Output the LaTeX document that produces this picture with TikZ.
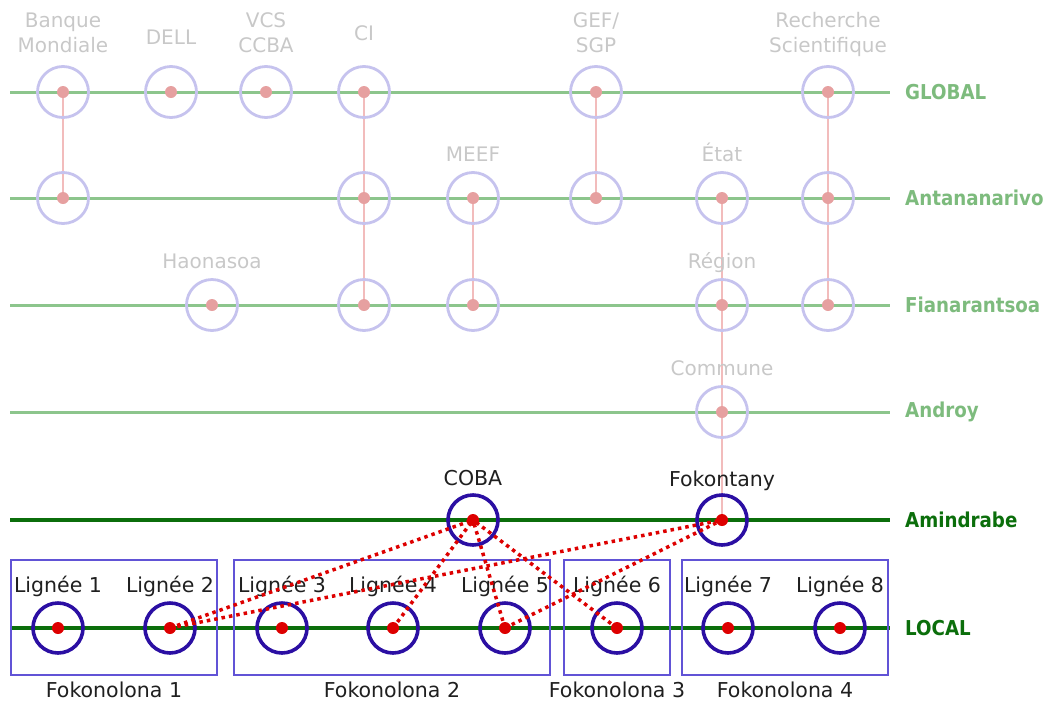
\documentclass[tikz,border=0pt]{standalone}
\usepackage{fontspec}
\setmainfont{DejaVu Sans}
\newfontfamily\levelfont{DejaVu Sans}[FakeStretch=0.89]
\usetikzlibrary{positioning}
\definecolor{faintgreen}{HTML}{8CC58C}
\definecolor{faintlevel}{HTML}{7DBB7D}
\definecolor{faintblue}{HTML}{C6C3EE}
\definecolor{faintred}{HTML}{E6A0A0}
\definecolor{faintlink}{HTML}{F2BCBC}
\definecolor{faintgray}{HTML}{C8C8C8}
\definecolor{localgreen}{HTML}{0B6E0B}
\definecolor{localblue}{HTML}{2B0FA3}
\definecolor{localred}{HTML}{DD0000}
\definecolor{clanblue}{HTML}{6153D6}
\tikzset{faint actor/.style={draw=faintblue, circle, line width=2.8pt, minimum size=51pt, inner sep=0pt,
          path picture={\fill[faintred] (path picture bounding box.center) circle (6pt);}}}
\tikzset{local actor/.style={draw=localblue, circle, line width=3.6pt, minimum size=50pt, inner sep=0pt,
          path picture={\fill[localred] (path picture bounding box.center) circle (6pt);}}}
\tikzset{faint label/.style={text=faintgray, font=\fontsize{20}{25}\selectfont, align=center, inner sep=0pt,
          text height=14.5pt, text depth=5pt}}
\tikzset{local label/.style={text=black!88, font=\fontsize{20.5}{25}\selectfont, inner sep=0pt,
          text height=14.5pt, text depth=5pt}}
\tikzset{faint level/.style={draw=faintgreen, line width=3pt}}
\tikzset{local level/.style={draw=localgreen, line width=3.6pt}}
\tikzset{level name/.style={anchor=west, inner sep=0pt, font=\levelfont\bfseries\fontsize{20.5}{24}\selectfont}}
\tikzset{faint tie/.style={draw=faintlink, line width=2pt}}
\tikzset{tie/.style={draw=localred, line width=3.5pt, dash pattern=on 3.5pt off 4pt}}
\tikzset{clan/.style={draw=clanblue, line width=1.8pt, inner sep=0pt}}

\begin{document}
\begin{tikzpicture}[x=1pt, y=-1pt]
    \useasboundingbox (0,0) rectangle (1047,702);

    % levels
    \coordinate (global-w) at (10,92);         \coordinate (global-e) at (890,92);
    \coordinate (tana-w) at (10,198);          \coordinate (tana-e) at (890,198);
    \coordinate (fianar-w) at (10,305);        \coordinate (fianar-e) at (890,305);
    \coordinate (androy-w) at (10,412);        \coordinate (androy-e) at (890,412);
    \coordinate (amindrabe-w) at (10,520);     \coordinate (amindrabe-e) at (890,520);
    \coordinate (local-w) at (10,628);         \coordinate (local-e) at (890,628);

    \draw [faint level] (global-w) -- (global-e);
    \draw [faint level] (tana-w) -- (tana-e);
    \draw [faint level] (fianar-w) -- (fianar-e);
    \draw [faint level] (androy-w) -- (androy-e);
    \draw [local level, line width=4pt] (amindrabe-w) -- (amindrabe-e);
    \draw [local level] (local-w) -- (local-e);

    \node[level name, text=faintlevel, right=15pt of global-e] (global) {GLOBAL};
    \node[level name, text=faintlevel, right=15pt of tana-e] (tana) {Antananarivo};
    \node[level name, text=faintlevel, right=15pt of fianar-e] (fianar) {Fianarantsoa};
    \node[level name, text=faintlevel, right=15pt of androy-e] (androy) {Androy};
    \node[level name, text=localgreen, right=15pt of amindrabe-e] (amindrabe) {Amindrabe};
    \node[level name, text=localgreen, right=15pt of local-e] (local) {LOCAL};

    % links between levels
    \draw [faint tie] (63,92) coordinate (bm-top) -- (63,198) coordinate (bm-bot);
    \draw [faint tie] (364,92) coordinate (ci-top) -- (364,305) coordinate (ci-bot);
    \draw [faint tie] (473,198) coordinate (meef-top) -- (473,305) coordinate (meef-bot);
    \draw [faint tie] (596,92) coordinate (gef-top) -- (596,198) coordinate (gef-bot);
    \draw [faint tie] (722,198) coordinate (etat-top) -- (722,520) coordinate (etat-bot);
    \draw [faint tie] (828,92) coordinate (rs-top) -- (828,305) coordinate (rs-bot);

    % global
    \node[faint actor] (bm-g) at (bm-top) {};
    \node[faint actor] (dell-g) at (171,92) {};
    \node[faint actor] (vcs-g) at (266,92) {};
    \node[faint actor] (ci-g) at (ci-top) {};
    \node[faint actor] (gef-g) at (gef-top) {};
    \node[faint actor] (rs-g) at (rs-top) {};

    \node[faint label, text height=, text depth=] (bm-label) at (63,33) {Banque\\Mondiale};
    \node[faint label, anchor=base] (dell-label) at (171,44) {DELL};
    \node[faint label, text height=, text depth=] (vcs-label) at (266,33) {VCS\\CCBA};
    \node[faint label, anchor=base] (ci-label) at (364,40) {CI};
    \node[faint label, text height=, text depth=] (gef-label) at (596,33) {GEF/\\SGP};
    \node[faint label, text height=, text depth=] (rs-label) at (828,34) {Recherche\\Scientifique};

    % antananarivo
    \node[faint actor] (bm-a) at (bm-bot) {};
    \node[faint actor] (ci-a) at (364,198) {};
    \node[faint actor] (meef-a) at (meef-top) {};
    \node[faint actor] (gef-a) at (gef-bot) {};
    \node[faint actor] (etat-a) at (etat-top) {};
    \node[faint actor] (rs-a) at (828,198) {};

    \node[faint label, above=4pt of meef-a] (meef-label) {MEEF};
    \node[faint label, above=4pt of etat-a] (etat-label) {État};

    % fianarantsoa
    \node[faint actor] (haona-f) at (212,305) {};
    \node[faint actor] (ci-f) at (ci-bot) {};
    \node[faint actor] (meef-f) at (meef-bot) {};
    \node[faint actor] (region-f) at (722,305) {};
    \node[faint actor] (rs-f) at (rs-bot) {};

    \node[faint label, above=4pt of haona-f] (haona-label) {Haonasoa};
    \node[faint label, above=4pt of region-f] (region-label) {Région};

    % androy
    \node[faint actor] (commune) at (722,412) {};
    \node[faint label, above=4pt of commune] (commune-label) {Commune};

    % amindrabe
    \node[local actor] (coba) at (473,520) {};
    \node[local actor] (fokontany) at (etat-bot) {};
    \node[local label, above=3pt of coba] (coba-label) {COBA};
    \node[local label, above=2pt of fokontany] (fokontany-label) {Fokontany};

    % lignees
    \node[local actor] (l1) at (58,628) {};
    \node[local actor] (l2) at (170,628) {};
    \node[local actor] (l3) at (282,628) {};
    \node[local actor] (l4) at (393,628) {};
    \node[local actor] (l5) at (505,628) {};
    \node[local actor] (l6) at (617,628) {};
    \node[local actor] (l7) at (728,628) {};
    \node[local actor] (l8) at (840,628) {};

    \node[local label, above=4pt of l1] {Lignée 1};
    \node[local label, above=4pt of l2] {Lignée 2};
    \node[local label, above=4pt of l3] {Lignée 3};
    \node[local label, above=4pt of l4] {Lignée 4};
    \node[local label, above=4pt of l5] {Lignée 5};
    \node[local label, above=4pt of l6] {Lignée 6};
    \node[local label, above=4pt of l7] {Lignée 7};
    \node[local label, above=4pt of l8] {Lignée 8};

    % fokonolona
    \node[clan, minimum width=206pt, minimum height=115pt] (fk1) at (114,617.5) {};
    \node[clan, minimum width=316pt, minimum height=115pt] (fk2) at (392,617.5) {};
    \node[clan, minimum width=106pt, minimum height=115pt] (fk3) at (617,617.5) {};
    \node[clan, minimum width=206pt, minimum height=115pt] (fk4) at (785,617.5) {};

    \node[local label, below=7pt of fk1] (fk1-label) {Fokonolona 1};
    \node[local label, below=7pt of fk2] (fk2-label) {Fokonolona 2};
    \node[local label, below=7pt of fk3] (fk3-label) {Fokonolona 3};
    \node[local label, below=7pt of fk4] (fk4-label) {Fokonolona 4};

    % ties
    \draw [tie] (l2.center) -- (coba.center);
    \draw [tie] (l2.center) -- (fokontany.center);
    \draw [tie] (l4.center) -- (coba.center);
    \draw [tie] (l5.center) -- (coba.center);
    \draw [tie] (l5.center) -- (fokontany.center);
    \draw [tie] (l6.center) -- (coba.center);
\end{tikzpicture}
\end{document}
